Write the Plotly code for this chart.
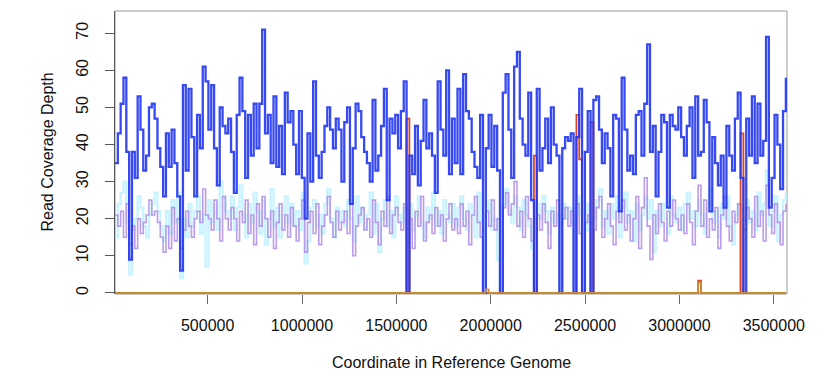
import plotly.graph_objects as go

# window layout (genomic coordinates)
win_start = 9000
win_size = 15000

blue = [35,43,51,58,38,9,38,31,53,44,33,37,50,51,47,39,34,26,43,34,44,35,26,6,56,33,55,42,26,48,39,61,57,44,56,39,29,50,45,43,
        47,38,27,48,58,49,31,48,37,51,39,51,71,43,48,35,53,34,45,32,54,46,49,40,32,49,31,20,43,30,57,37,31,38,45,50,44,39,47,44,
        30,46,50,24,39,51,49,42,38,35,30,52,33,37,45,55,25,47,43,48,39,49,57,0,37,32,45,29,41,52,39,43,37,27,57,44,37,60,32,47,
        35,55,32,59,49,47,38,34,31,48,0,39,48,34,45,33,0,54,59,44,31,61,65,47,40,37,54,25,0,55,33,39,47,35,50,40,37,0,39,42,
        41,43,0,42,55,0,38,49,0,52,53,44,35,43,39,26,48,47,22,58,44,33,37,32,48,49,37,51,67,38,45,26,38,48,46,23,48,45,44,50,
        42,37,45,50,31,53,37,38,52,46,22,42,35,29,37,23,45,37,33,47,54,31,0,47,37,53,35,51,37,41,69,23,31,48,40,28,49,58]

purple = [21,18,22,15,24,13,18,12,20,16,19,21,25,21,22,19,15,11,18,12,23,14,20,12,17,22,18,15,20,22,19,28,21,20,17,25,20,14,26,20,
          17,23,20,14,22,19,25,16,21,13,24,18,26,20,15,22,12,19,24,17,21,15,23,18,14,20,25,11,19,22,16,24,13,18,21,26,19,15,22,17,
          19,22,16,24,10,18,21,23,17,20,15,25,19,13,22,18,26,16,21,23,19,17,24,0,20,12,22,18,26,14,19,21,16,23,18,21,14,20,24,17,
          20,16,24,18,22,13,21,26,19,15,0,22,18,25,17,20,0,23,27,21,24,30,18,22,15,26,20,14,0,21,17,24,19,12,22,18,25,0,20,23,
          18,22,0,24,16,0,19,21,0,17,23,26,15,20,24,18,13,22,19,25,17,21,14,20,26,12,23,31,18,9,21,16,24,19,14,22,18,25,20,17,
          21,16,24,19,13,22,29,18,25,15,20,17,23,12,21,26,18,14,22,19,24,0,17,23,20,15,26,18,22,14,29,21,16,24,19,13,22,24]

cyan = [15,24,27,30,19,5,17,20,26,23,18,15,21,24,27,22,18,14,22,16,25,19,27,4,20,15,24,18,22,26,16,21,7,25,19,24,17,30,26,22,
        20,26,17,23,29,21,15,24,19,27,22,16,25,13,20,28,18,23,15,21,26,19,24,18,22,17,27,8,14,23,25,18,21,16,24,28,20,15,23,19,
        22,18,25,20,14,26,19,23,17,21,27,16,24,11,20,25,18,22,15,26,21,19,23,0,24,17,21,26,19,15,23,20,27,18,22,16,25,21,19,24,
        18,23,26,20,17,24,21,15,27,19,0,22,25,17,20,9,0,24,28,22,19,26,23,17,25,21,18,12,0,24,20,26,22,16,23,19,21,0,24,20,
        23,19,0,26,21,0,17,24,0,20,25,28,18,22,16,24,20,26,15,23,27,19,22,14,24,17,21,26,20,25,11,22,18,24,20,16,26,21,19,23,
        17,24,27,20,22,18,25,21,16,23,28,19,22,15,24,20,26,18,13,21,24,0,20,25,19,22,17,27,21,24,33,18,22,26,14,21,25,27]

# sparse series: window index -> depth (zero elsewhere)
red_idx = [103, 148, 163, 164, 168, 206, 221]
red_val = [47, 37, 48, 36, 46, 3.3, 43]
orange_idx = [131, 206]
orange_val = [1.0, 2.7]
olive_idx = [162]
olive_val = [2.0]

n_win = len(blue)

def full(idx, val):
    s = [0.0] * n_win
    for i, v in zip(idx, val):
        s[i] = v
    return s

def xs(series):
    return [win_start + i * win_size for i in range(len(series))]

y_ticks = [0, 10, 20, 30, 40, 50, 60, 70]
x_ticks = [500000, 1000000, 1500000, 2000000, 2500000, 3000000, 3500000]
x_range = [9000, 3570000]
y_range = [-0.3, 76]

fig = go.Figure()

def add(series, color, width):
    fig.add_trace(go.Scatter(x=xs(series), y=series, mode="lines",
                             line=dict(color=color, width=width, shape="hv"),
                             hoverinfo="skip", showlegend=False))

add(full(olive_idx, olive_val), "rgb(200,195,120)", 2)
add(cyan, "rgba(195,242,255,0.9)", 2.4)
add(purple, "rgba(175,140,232,0.85)", 1.6)
add(full(red_idx, red_val), "rgb(220,70,40)", 1.8)
add(blue, "rgba(38,58,240,0.92)", 2.3)
add(full(orange_idx, orange_val), "rgb(205,140,50)", 1.6)

font = dict(family="Liberation Sans, Arial, sans-serif", size=16, color="#111")

# page body has an 8px margin: size and margins compensate for it
fig.update_layout(
    width=821, height=375,
    margin=dict(l=107, r=42, t=3, b=89),
    paper_bgcolor="white", plot_bgcolor="white",
    font=font,
    xaxis=dict(range=x_range, tickvals=x_ticks, ticktext=[str(v) for v in x_ticks],
               showgrid=False, zeroline=False, showline=False,
               ticks="outside", ticklen=9, tickcolor="#666", tickwidth=1,
               ticklabelstandoff=8),
    yaxis=dict(range=y_range, tickvals=y_ticks, ticktext=[str(v) for v in y_ticks],
               tickangle=-90, showgrid=False, zeroline=False,
               showline=True, linecolor="#555", linewidth=1.2,
               ticks="outside", ticklen=9, tickcolor="#555", tickwidth=1,
               ticklabelstandoff=11),
    shapes=[dict(type="rect", xref="paper", yref="paper", x0=0, x1=1, y0=0, y1=1,
                 line=dict(color="#999", width=1), fillcolor="rgba(0,0,0,0)", layer="below")],
    annotations=[
        dict(text="Coordinate in Reference Genome", xref="paper", yref="paper",
             x=0.5, y=0, yshift=-68, showarrow=False, xanchor="center", yanchor="middle",
             font=font),
        dict(text="Read Coverage Depth", xref="paper", yref="paper",
             x=0, y=0.5, xshift=-68, showarrow=False, textangle=-90,
             xanchor="center", yanchor="middle", font=font),
    ],
)

fig.write_html("out.html")
